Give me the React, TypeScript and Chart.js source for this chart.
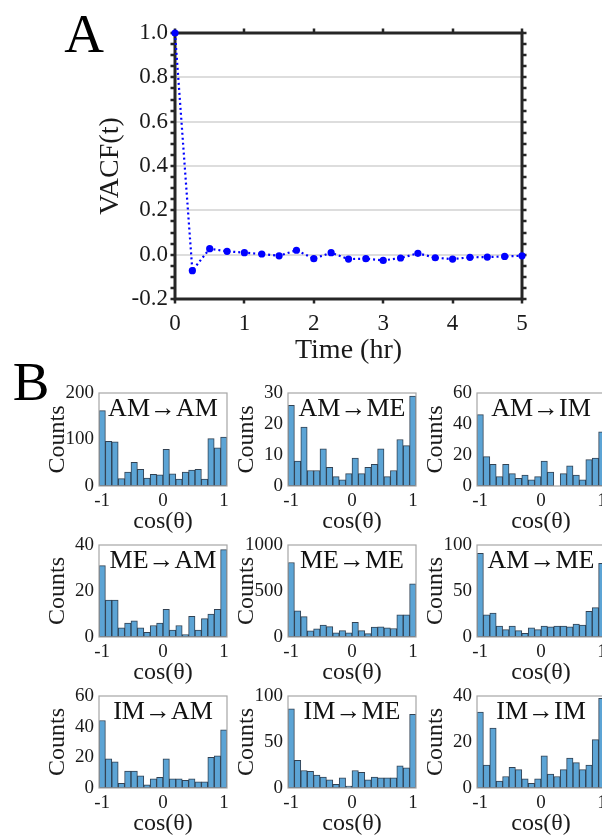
import React, { useEffect, useRef } from 'react';
import { Chart, registerables } from 'chart.js';

Chart.register(...registerables);

const FONT = "'Liberation Serif', 'Times New Roman', serif";
const TEXT = '#1a1a1a';

// ---------- Panel A data ----------
const timeHr = [0, 0.25, 0.5, 0.75, 1, 1.25, 1.5, 1.75, 2, 2.25, 2.5, 2.75, 3, 3.25, 3.5, 3.75, 4, 4.25, 4.5, 4.75, 5];
const vacf = [1.0, -0.072, 0.027, 0.015, 0.009, 0.003, -0.005, 0.02, -0.018, 0.009, -0.02, -0.018, -0.026, -0.015, 0.006, -0.014, -0.02, -0.012, -0.011, -0.008, -0.005];
const timeTicks = [0, 1, 2, 3, 4, 5];
const vacfTicks = [-0.2, 0, 0.2, 0.4, 0.6, 0.8, 1.0];

// ---------- Panel B data ----------
const binCenters = [-0.9975, -0.8925, -0.7875, -0.6825, -0.5775, -0.4725, -0.3675, -0.2625, -0.1575, -0.0525,
  0.0525, 0.1575, 0.2625, 0.3675, 0.4725, 0.5775, 0.6825, 0.7875, 0.8925, 0.9975];
const cosTicks = [-1, 0, 1];

const countsAMAM = [162, 96, 95, 16, 30, 51, 36, 17, 25, 24, 79, 26, 15, 30, 34, 36, 15, 102, 82, 105];
const countsAMME = [26, 8, 19, 5, 5, 12, 6, 3, 2, 4, 9, 4, 6, 7, 12, 3, 5, 15, 13, 29];
const countsAMIM = [46, 19, 14, 6, 14, 8, 5, 7, 4, 6, 16, 9, 0, 8, 13, 7, 4, 17, 18, 35];
const countsMEAM = [31, 16, 16, 4, 6, 7, 4, 2, 5, 6, 12, 3, 5, 1, 9, 3, 8, 10, 12, 38];
const countsMEME = [810, 285, 221, 68, 90, 130, 112, 44, 70, 44, 160, 70, 36, 109, 111, 100, 92, 242, 242, 578];
const countsAMME2 = [91, 24, 26, 12, 8, 12, 7, 4, 10, 8, 12, 11, 12, 12, 11, 14, 13, 28, 32, 80];
const countsIMAM = [44, 19, 17, 3, 11, 11, 8, 2, 6, 7, 19, 6, 6, 5, 6, 4, 4, 20, 21, 38];
const countsIMME = [86, 30, 19, 18, 14, 12, 9, 4, 11, 2, 19, 17, 9, 12, 11, 11, 11, 24, 22, 80];
const countsIMIM = [33, 10, 26, 3, 5, 9, 8, 4, 2, 4, 14, 6, 5, 8, 13, 11, 8, 10, 21, 39];

const yTicksAMAM = [0, 100, 200];
const yTicksAMME = [0, 10, 20, 30];
const yTicksAMIM = [0, 20, 40, 60];
const yTicksMEAM = [0, 20, 40];
const yTicksMEME = [0, 500, 1000];
const yTicksAMME2 = [0, 50, 100];
const yTicksIMAM = [0, 20, 40, 60];
const yTicksIMME = [0, 50, 100];
const yTicksIMIM = [0, 20, 40];

const panels = [
  { label: 'AM→AM', counts: countsAMAM, yTicks: yTicksAMAM, row: 0, col: 0 },
  { label: 'AM→ME', counts: countsAMME, yTicks: yTicksAMME, row: 0, col: 1 },
  { label: 'AM→IM', counts: countsAMIM, yTicks: yTicksAMIM, row: 0, col: 2 },
  { label: 'ME→AM', counts: countsMEAM, yTicks: yTicksMEAM, row: 1, col: 0 },
  { label: 'ME→ME', counts: countsMEME, yTicks: yTicksMEME, row: 1, col: 1 },
  { label: 'AM→ME', counts: countsAMME2, yTicks: yTicksAMME2, row: 1, col: 2 },
  { label: 'IM→AM', counts: countsIMAM, yTicks: yTicksIMAM, row: 2, col: 0 },
  { label: 'IM→ME', counts: countsIMME, yTicks: yTicksIMME, row: 2, col: 1 },
  { label: 'IM→IM', counts: countsIMIM, yTicks: yTicksIMIM, row: 2, col: 2 },
];

// layout (pixels)
const colLeft = [99, 288, 477];
const rowTop = [393, 545, 696];
const rowHeight = [93, 92, 92];
const HIST_W = 128;
const HIST_AXIS_W = 99;
const HIST_TOP_PAD = 20;
const HIST_BOTTOM = 55;

const vacfFramePlugin = {
  id: 'vacfFrame',
  beforeDatasetsDraw(chart: any) {
    const { ctx, chartArea: a, scales } = chart;
    ctx.save();
    ctx.strokeStyle = '#262626';
    ctx.lineWidth = 2.5;
    ctx.beginPath();
    for (let k = 0; k <= 24; k++) {
      const v = -0.2 + k * 0.05;
      const py = Math.round(scales.y.getPixelForValue(v));
      ctx.moveTo(a.left - 4.5, py);
      ctx.lineTo(a.left, py);
      ctx.moveTo(a.right, py);
      ctx.lineTo(a.right + 4.5, py);
    }
    timeTicks.forEach((v) => {
      const px = Math.round(scales.x.getPixelForValue(v));
      ctx.moveTo(px, a.top - 4.5);
      ctx.lineTo(px, a.top);
      ctx.moveTo(px, a.bottom);
      ctx.lineTo(px, a.bottom + 4.5);
    });
    ctx.stroke();
    ctx.lineWidth = 3;
    ctx.strokeRect(a.left, a.top, a.right - a.left, a.bottom - a.top);
    ctx.restore();
  },
  afterDraw(chart: any) {
    const { ctx } = chart;
    ctx.save();
    ctx.fillStyle = '#000';
    ctx.font = `55px ${FONT}`;
    ctx.textAlign = 'center';
    ctx.textBaseline = 'alphabetic';
    ctx.fillText('A', 84, 52);
    ctx.fillText('B', 31, 400);
    ctx.restore();
  },
};

function VacfChart() {
  const ref = useRef<HTMLCanvasElement>(null);
  useEffect(() => {
    const W = 602;
    const H = 410;
    const plot = { left: 175, top: 33, right: 522, bottom: 299 };
    const axisBottom = 372;
    const chart = new Chart(ref.current as HTMLCanvasElement, {
      type: 'line',
      data: {
        datasets: [
          {
            data: timeHr.map((t, i) => ({ x: t, y: vacf[i] })),
            borderColor: '#0000ff',
            borderWidth: 2.2,
            borderDash: [2, 3],
            pointRadius: 3.6,
            pointHoverRadius: 3.6,
            pointBackgroundColor: '#0000ff',
            pointBorderWidth: 0,
            tension: 0,
            clip: false as any,
          },
        ],
      },
      options: {
        animation: false,
        responsive: false,
        devicePixelRatio: 1,
        events: [],
        layout: { padding: { left: 0, top: plot.top, right: W - plot.right, bottom: H - axisBottom } },
        plugins: { legend: { display: false }, tooltip: { enabled: false } },
        scales: {
          x: {
            type: 'linear',
            min: 0,
            max: 5,
            afterBuildTicks: (s: any) => { s.ticks = timeTicks.map((v) => ({ value: v })); },
            afterFit: (s: any) => { s.height = axisBottom - plot.bottom; },
            grid: { display: false, drawTicks: false },
            border: { display: false },
            ticks: { padding: 11, color: TEXT, font: { family: FONT, size: 23 }, callback: (v: any) => String(v), maxRotation: 0 },
            title: { display: true, text: 'Time (hr)', color: TEXT, font: { family: FONT, size: 28 }, padding: { top: 0, bottom: 5 } },
          },
          y: {
            type: 'linear',
            min: -0.2,
            max: 1.0,
            afterBuildTicks: (s: any) => { s.ticks = vacfTicks.map((v) => ({ value: v })); },
            afterFit: (s: any) => { s.width = plot.left; },
            grid: { color: '#dddddd', lineWidth: 2, drawTicks: false },
            border: { display: false },
            ticks: { padding: 7, color: TEXT, font: { family: FONT, size: 23 }, callback: (v: any) => Number(v).toFixed(1) },
            title: { display: true, text: 'VACF(t)', color: TEXT, font: { family: FONT, size: 28 }, padding: { top: 94, bottom: 0 } },
          },
        },
      } as any,
      plugins: [vacfFramePlugin],
    });
    return () => chart.destroy();
  }, []);
  return <canvas ref={ref} width={602} height={410} style={{ position: 'absolute', left: 0, top: 0, width: 602, height: 410 }} />;
}

const histDecorPlugin = {
  id: 'histDecor',
  afterDatasetsDraw(chart: any, _args: any, opts: any) {
    const { ctx, chartArea: a } = chart;
    ctx.save();
    ctx.strokeStyle = '#a6a6a6';
    ctx.lineWidth = 1.2;
    ctx.strokeRect(a.left, a.top, a.right - a.left, a.bottom - a.top);
    ctx.fillStyle = '#111111';
    ctx.font = `26px ${FONT}`;
    ctx.textAlign = 'center';
    ctx.textBaseline = 'middle';
    ctx.fillText(opts.text, (a.left + a.right) / 2, a.top + 16);
    ctx.restore();
  },
};

function Histogram({ label, counts, yTicks, row, col }: any) {
  const ref = useRef<HTMLCanvasElement>(null);
  const ph = rowHeight[row];
  const cw = HIST_AXIS_W + HIST_W + 12;
  const chH = HIST_TOP_PAD + ph + HIST_BOTTOM;
  useEffect(() => {
    const chart = new Chart(ref.current as HTMLCanvasElement, {
      type: 'bar',
      data: {
        datasets: [
          {
            data: binCenters.map((x, i) => ({ x, y: counts[i] })),
            backgroundColor: 'rgb(92,164,213)',
            borderColor: 'rgba(28,46,64,0.9)',
            borderWidth: 1,
            borderSkipped: false,
            barPercentage: 1,
            categoryPercentage: 1,
          },
        ],
      },
      options: {
        animation: false,
        responsive: false,
        devicePixelRatio: 1,
        events: [],
        layout: { padding: { left: 0, top: HIST_TOP_PAD, right: cw - HIST_AXIS_W - HIST_W, bottom: 0 } },
        plugins: { legend: { display: false }, tooltip: { enabled: false }, histDecor: { text: label } },
        scales: {
          x: {
            type: 'linear',
            min: -1.05,
            max: 1.05,
            offset: false,
            afterBuildTicks: (s: any) => { s.ticks = cosTicks.map((v) => ({ value: v })); },
            afterFit: (s: any) => { s.height = HIST_BOTTOM; },
            grid: { display: false, drawTicks: false },
            border: { display: false },
            ticks: { padding: 4, color: TEXT, font: { family: FONT, size: 19 }, callback: (v: any) => String(v), maxRotation: 0 },
            title: { display: true, text: 'cos(θ)', color: TEXT, font: { family: FONT, size: 24 }, padding: { top: 0, bottom: 5 } },
          },
          y: {
            type: 'linear',
            min: 0,
            max: yTicks[yTicks.length - 1],
            afterBuildTicks: (s: any) => { s.ticks = yTicks.map((v: number) => ({ value: v })); },
            afterFit: (s: any) => { s.width = HIST_AXIS_W; },
            grid: { display: false, drawTicks: false },
            border: { display: false },
            ticks: { padding: 5, color: TEXT, font: { family: FONT, size: 19 }, callback: (v: any) => String(v) },
            title: { display: true, text: 'Counts', color: TEXT, font: { family: FONT, size: 24 }, padding: { top: 43, bottom: 0 } },
          },
        },
      } as any,
      plugins: [histDecorPlugin],
    });
    return () => chart.destroy();
  }, []);
  return (
    <canvas
      ref={ref}
      width={cw}
      height={chH}
      style={{ position: 'absolute', left: colLeft[col] - HIST_AXIS_W, top: rowTop[row] - HIST_TOP_PAD, width: cw, height: chH }}
    />
  );
}

export default function App() {
  return (
    <div style={{ position: 'absolute', left: 0, top: 0, width: 602, height: 836, overflow: 'hidden', background: '#fff' }}>
      <VacfChart />
      {panels.map((p, i) => (
        <Histogram key={i} {...p} />
      ))}
    </div>
  );
}
